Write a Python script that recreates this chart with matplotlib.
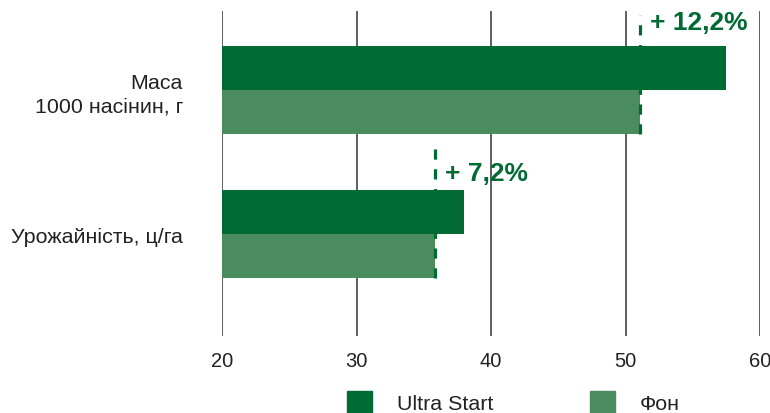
import matplotlib.pyplot as plt
from matplotlib.patches import Patch

plt.rcParams['font.family'] = ['Liberation Sans', 'DejaVu Sans']

# Data
categories = ['Маса\n1000 насінин, г', 'Урожайність, ц/га']
ultra_start = [57.5, 38.0]
fon = [51.1, 35.8]
gains = ['+ 12,2%', '+ 7,2%']
series_names = ['Ultra Start', 'Фон']
x_ticks = [20, 30, 40, 50, 60]

DARK = '#006a33'
LIGHT = '#4a8c5d'
GRID = '#333333'

fig = plt.figure(figsize=(7.7, 4.14), dpi=100)
ax = fig.add_axes([222 / 770, 1 - 337 / 414, 538 / 770, 325 / 414])

h = 0.3
off = 0.153
ypos = list(range(len(categories)))
ax.barh([y - off for y in ypos], [v - 20 for v in ultra_start], left=20,
        height=h, color=DARK, zorder=2)
ax.barh([y + off for y in ypos], [v - 20 for v in fon], left=20,
        height=h, color=LIGHT, zorder=2)

# dashed reference lines at the control value, with the gain label
tops = [-0.52, -0.604]
label_y = [-0.47, -0.425]
for y, f, g, t, ly in zip(ypos, fon, gains, tops, label_y):
    ax.plot([f, f], [y + off + h / 2, y + t], color=DARK, lw=2.3,
            linestyle=(0, (3.2, 3.0)), zorder=3, solid_capstyle='butt')
    ax.text(f + 0.75, y + ly, g, color=DARK, fontsize=19,
            fontweight='bold', ha='left', va='center')

ax.set_xlim(20, 60)
ax.set_ylim(1.708, -0.549)
ax.set_xticks(x_ticks)
ax.set_yticks(ypos)
ax.set_yticklabels(categories, linespacing=1.3, fontsize=15.4)
ax.tick_params(axis='both', length=0, colors='#222222')
ax.tick_params(axis='x', pad=11, labelsize=14.5)
ax.tick_params(axis='y', pad=28)
for s in ax.spines.values():
    s.set_visible(False)
ax.grid(axis='x', color=GRID, lw=1.1)
ax.grid(axis='y', visible=False)
ax.set_axisbelow(True)

handles = [Patch(color=DARK), Patch(color=LIGHT)]
fig.legend(handles, series_names, loc='upper left',
           bbox_to_anchor=(347 / 770, 1 - 392 / 414), ncol=2, frameon=False,
           fontsize=15.4, handlelength=1.17, handleheight=1.17,
           handletextpad=1.17, columnspacing=4.5, borderpad=0,
           borderaxespad=0, labelcolor='#222222')

fig.savefig('out.png', dpi=100)
